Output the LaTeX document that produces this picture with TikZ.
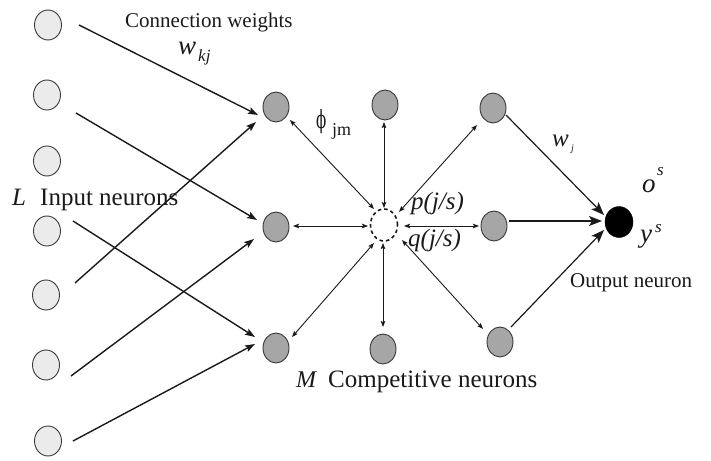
\documentclass[tikz,border=0pt]{standalone}
\usepackage{fontspec}
\setmainfont{Liberation Serif}
\newfontfamily\phifont{DejaVu Serif}
\usetikzlibrary{shapes.geometric,arrows.meta}
\newcommand{\fsz}[1]{\fontsize{#1}{#1}\selectfont}
\definecolor{inputfill}{HTML}{EBEBEB}
\definecolor{compfill}{HTML}{A6A6A6}
\definecolor{rim}{HTML}{383838}
\definecolor{ink}{HTML}{1A1A1A}
\tikzset{
  inneuron/.style={ellipse,draw=rim,line width=0.9pt,fill=inputfill,minimum width=27pt,minimum height=30pt,inner sep=0pt},
  compneuron/.style={ellipse,draw=rim,line width=0.9pt,fill=compfill,minimum width=26pt,minimum height=30pt,inner sep=0pt},
  hubneuron/.style={ellipse,draw=ink,line width=1.6pt,dash pattern=on 3.5pt off 3pt,minimum width=27pt,minimum height=32pt,inner sep=0pt},
  outneuron/.style={ellipse,draw=black,fill=black,minimum width=28pt,minimum height=31pt,inner sep=0pt},
  feed/.style={draw=ink,line width=1.4pt,-{Stealth[length=10pt,width=7pt,inset=2pt]}},
  link/.style={draw=ink,line width=0.9pt,{Stealth[length=6pt,width=4.5pt,inset=1pt]}-{Stealth[length=6pt,width=4.5pt,inset=1pt]}},
  outlink/.style={draw=ink,line width=1.2pt,-{Stealth[length=13pt,width=10pt,inset=3pt]}},
  lbl/.style={inner sep=0pt,anchor=base west,text=ink},
}
\begin{document}
\begin{tikzpicture}[x=1pt,y=-1pt]
\fill[white] (0,0) rectangle (711,460);
\useasboundingbox (0,0) rectangle (711,460);

% input layer
\node[inneuron] (in1) at (48,25) {};
\node[inneuron] (in2) at (47,95) {};
\node[inneuron] (in3) at (47,161) {};
\node[inneuron] (in4) at (47,231) {};
\node[inneuron] (in5) at (46,295) {};
\node[inneuron] (in6) at (46,365) {};
\node[inneuron] (in7) at (48,441) {};

% competitive layer around the hub
\node[compneuron] (c1) at (276,107) {};
\node[compneuron] (c2) at (385,105) {};
\node[compneuron] (c3) at (493,108) {};
\node[compneuron] (c4) at (276,227) {};
\node[hubneuron]  (c5) at (384,225) {};
\node[compneuron] (c6) at (494,226) {};
\node[compneuron] (c7) at (276,348) {};
\node[compneuron] (c8) at (383,349) {};
\node[compneuron] (c9) at (500,342) {};

% output neuron
\node[outneuron] (out) at (619,222) {};

% labels
\node[lbl] (tcw) at (125,28) {\fsz{21}Connection weights};
\node[lbl] (tw) at (178,55) {\fsz{27}\itshape w};
\node[lbl] (tkj) at (198,61) {\fsz{17}\itshape kj};
\node[lbl] (tphi) at (316,128) {\fsz{25}\phifont\scalebox{0.6}[1]{ϕ}};
\node[lbl] (tjm) at (332,135) {\fsz{18}jm};
\node[lbl] (tp) at (411,209) {\fsz{25}\itshape p(j/s)};
\node[lbl] (tq) at (408,246) {\fsz{25}\itshape q(j/s)};
\node[lbl] (twj) at (552,146) {\fsz{25}\itshape w};
\node[lbl] (tj) at (571,151) {\fsz{10}\itshape j};
\node[lbl] (to) at (642,192) {\fsz{27}\itshape o};
\node[lbl] (tos) at (657,175) {\fsz{17}\itshape s};
\node[lbl] (ty) at (640,242) {\fsz{27}\itshape y};
\node[lbl] (tys) at (655,232) {\fsz{17}\itshape s};
\node[lbl] (tout) at (570,287) {\fsz{21}Output neuron};
\node[lbl] (tL) at (12,205) {\fsz{25}\itshape L};
\node[lbl] (tin) at (40,205) {\fsz{25}Input neurons};
\node[lbl] (tM) at (296,387) {\fsz{24}\itshape M};
\node[lbl] (tcomp) at (328,387) {\fsz{25}Competitive neurons};

% connection weights from the input layer
\draw[feed] ([shift={(31,0)}]in1.center) -- ([shift={(-18,8)}]c1.center);
\draw[feed] ([shift={(29,18)}]in2.center) -- ([shift={(-19,-7)}]c4.center);
\draw[feed] ([shift={(26,-10)}]in4.center) -- ([shift={(-21,-11)}]c7.center);
\draw[feed] ([shift={(29,-12)}]in5.center) -- ([shift={(-20,15)}]c1.center);
\draw[feed] ([shift={(25,11)}]in6.center) -- ([shift={(-22,12)}]c4.center);
\draw[feed] ([shift={(25,0)}]in7.center) -- ([shift={(-21,-4)}]c7.center);

% competition links through the hub
\draw[link] ([shift={(14,13)}]c1.center) -- ([shift={(-10,-16)}]c5.center);
\draw[link] ([shift={(-1,17)}]c2.center) -- ([shift={(0,-17)}]c5.center);
\draw[link] ([shift={(-16,17)}]c3.center) -- ([shift={(15,-13)}]c5.center);
\draw[link] ([shift={(17,-1)}]c4.center) -- ([shift={(-16,1)}]c5.center);
\draw[link] ([shift={(-15,0)}]c6.center) -- ([shift={(20,1)}]c5.center);
\draw[link] ([shift={(16,-11)}]c7.center) -- ([shift={(-10,18)}]c5.center);
\draw[link] ([shift={(0,-22)}]c8.center) -- ([shift={(-1,18)}]c5.center);
\draw[link] ([shift={(-17,-13)}]c9.center) -- ([shift={(18,15)}]c5.center);

% weights to the output neuron
\draw[outlink] ([shift={(13,7)}]c3.center) -- ([shift={(-15,-7)}]out.center);
\draw[outlink] ([shift={(15,-5)}]c6.center) -- ([shift={(-17,-1)}]out.center);
\draw[outlink] ([shift={(11,-15)}]c9.center) -- ([shift={(-15,8)}]out.center);
\end{tikzpicture}
\end{document}
